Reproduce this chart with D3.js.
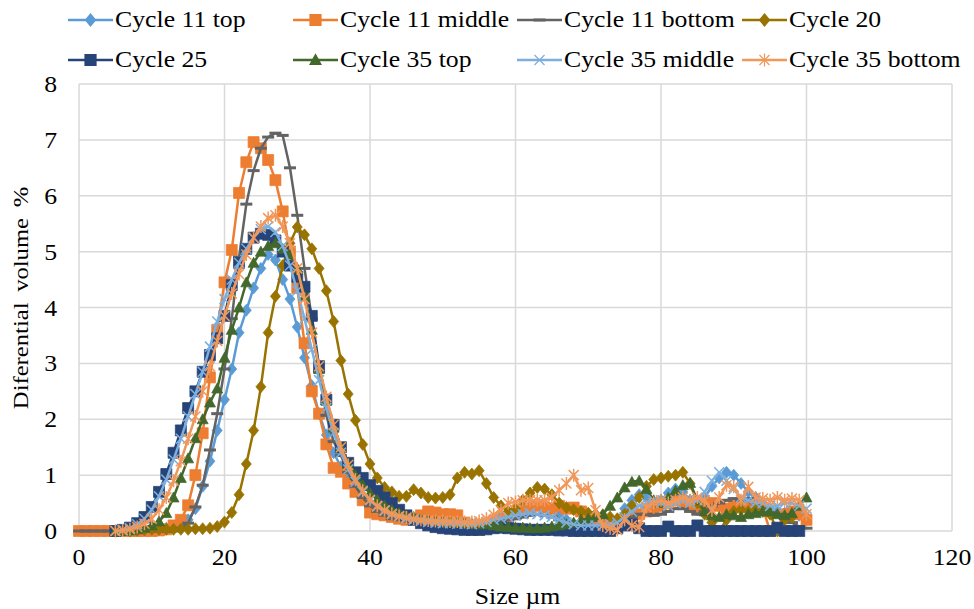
<!DOCTYPE html>
<html>
<head>
<meta charset="utf-8">
<script src="https://cdn.jsdelivr.net/npm/d3@7"></script>
<style>
  body { margin: 0; background: #fff; }
  svg { display: block; font-family: "Liberation Serif", "Times New Roman", serif; }
</style>
</head>
<body>
<div id="chart"></div>
<script>
// particle size grid (µm)
const sizes = [0, 1, 2, 3, 4, 5, 6, 7, 8, 9, 10, 11, 12, 13, 14, 15, 16, 17, 18, 19,
  20, 21, 22, 23, 24, 25, 26, 27, 28, 29, 30, 31, 32, 33, 34, 35, 36, 37, 38, 39,
  40, 41, 42, 43, 44, 45, 46, 47, 48, 49, 50, 51, 52, 53, 54, 55, 56, 57, 58, 59,
  60, 61, 62, 63, 64, 65, 66, 67, 68, 69, 70, 71, 72, 73, 74, 75, 76, 77, 78, 79,
  80, 81, 82, 83, 84, 85, 86, 87, 88, 89, 90, 91, 92, 93, 94, 95, 96, 97, 98, 99, 100];

// differential volume %, one value per size (null = no point)
const cycle11Top = [null, null, null, null, null, 0, 0, 0, 0, 0.01,
  0.02, 0.03, 0.05, 0.08, 0.12, 0.2, 0.4, 0.8, 1.25, 1.8,
  2.35, 2.9, 3.55, 3.95, 4.35, 4.7, 4.95, 4.85, 4.5, 4.15,
  3.65, 3.1, 2.6, 2.1, 1.72, 1.4, 1.15, 0.95, 0.78, 0.62,
  0.5, 0.42, 0.35, 0.3, 0.26, 0.22, 0.2, 0.18, 0.16, 0.15,
  0.14, 0.12, 0.12, 0.1, 0.1, 0.12, 0.15, 0.2, 0.25, 0.3,
  0.35, 0.4, 0.45, 0.5, 0.48, 0.4, 0.3, 0.2, 0.12, 0.08,
  0.05, 0.04, 0.04, 0.08, 0.2, 0.4, 0.55, 0.65, 0.6, 0.5,
  0.55, 0.68, 0.75, 0.7, 0.55, 0.5, 0.6, 0.8, 0.95, 1.05,
  1.0, 0.85, 0.7, 0.6, 0.5, 0.4, 0.35, 0.32, 0.3, 0.28, 0.25];

const cycle11Middle = [0, 0, 0, 0, 0, 0, 0, 0, 0, 0,
  0, 0.01, 0.03, 0.1, 0.2, 0.46, 1.0, 1.75, 2.75, 3.6,
  4.45, 5.03, 6.05, 6.6, 6.96, 6.85, 6.64, 6.28, 5.72, 5.0,
  4.35, 3.36, 2.5, 2.1, 1.55, 1.13, 1.06, 0.85, 0.7, 0.55,
  0.33, 0.3, 0.28, 0.25, 0.22, 0.2, 0.22, 0.28, 0.35, 0.33,
  0.3, 0.3, 0.28, 0.15, 0.02, 0.02, 0.1, 0.15, 0.2, 0.25,
  0.3, 0.35, 0.4, 0.45, 0.42, 0.4, 0.45, 0.4, 0.42, 0.35,
  0.25, 0.2, 0.18, 0.15, 0.15, 0.2, 0.25, 0.3, 0.35, 0.4,
  0.45, 0.5, 0.55, 0.5, 0.45, 0.4, 0.45, 0.5, 0.45, 0.4,
  0.45, 0.5, 0.45, 0.4, 0.4, 0.0, 0.05, 0.3, 0.35, 0.3, 0.2];

const cycle11Bottom = [0, 0, 0, 0, 0, 0, 0, 0, 0, 0,
  0, 0, 0, 0, 0.05, 0.14, 0.43, 0.82, 1.45, 2.1,
  2.9, 3.8, 4.9, 5.85, 6.45, 6.85, 7.05, 7.12, 7.08, 6.5,
  5.65, 4.7, 3.8, 2.85, 2.07, 1.6, 1.35, 1.05, 0.8, 0.6,
  0.45, 0.35, 0.28, 0.22, 0.2, 0.18, 0.16, 0.15, 0.14, 0.13,
  0.12, 0.12, 0.11, 0.1, 0.1, 0.1, 0.12, 0.15, 0.18, 0.2,
  0.22, 0.25, 0.28, 0.3, 0.28, 0.25, 0.2, 0.15, 0.12, 0.1,
  0.08, 0.06, 0.05, 0.05, 0.08, 0.15, 0.25, 0.3, 0.3, 0.28,
  0.3, 0.35, 0.4, 0.4, 0.35, 0.3, 0.35, 0.45, 0.5, 0.55,
  0.58, 0.55, 0.58, 0.5, 0.4, 0.35, 0.3, 0.25, 0.15, 0.08, 0.05];

const cycle20 = [null, null, null, null, null, 0, 0, 0, 0.01, 0.02,
  0.03, 0.03, 0.03, 0.03, 0.03, 0.03, 0.04, 0.04, 0.05, 0.08,
  0.16, 0.33, 0.65, 1.2, 1.8, 2.58, 3.55, 4.2, 4.75, 5.15,
  5.44, 5.3, 5.05, 4.7, 4.3, 3.75, 3.05, 2.45, 1.98, 1.55,
  1.2, 0.95, 0.78, 0.7, 0.62, 0.62, 0.74, 0.68, 0.6, 0.59,
  0.6, 0.65, 0.95, 1.05, 1.02, 1.08, 0.85, 0.6, 0.45, 0.35,
  0.4, 0.55, 0.68, 0.78, 0.75, 0.65, 0.5, 0.42, 0.38, 0.35,
  0.32, 0.3, 0.28, 0.25, 0.22, 0.3, 0.45, 0.6, 0.8, 0.92,
  0.95, 0.98, 1.0, 1.05, 0.85, 0.5, 0.3, 0.15, 0.0, 0.2,
  0.35, 0.38, 0.35, 0.38, 0.35, 0.3, 0.0, 0.2, 0.25, null, null];

const cycle25 = [null, null, null, null, null, 0, 0.02, 0.06, 0.14, 0.25,
  0.43, 0.7, 1.02, 1.4, 1.8, 2.2, 2.5, 2.85, 3.15, 3.45,
  3.85, 4.4, 4.8, 5.05, 5.25, 5.32, 5.3, 5.2, 5.0, 4.75,
  4.55, 4.37, 3.85, 2.95, 2.35, 1.9, 1.5, 1.22, 1.05, 0.95,
  0.82, 0.72, 0.6, 0.5, 0.38, 0.28, 0.2, 0.14, 0.1, 0.07,
  0.05, 0.04, 0.03, 0.02, 0.02, 0.02, 0.03, 0.05, 0.06, 0.05,
  0.04, 0.03, 0.02, 0.02, 0.02, 0.02, 0.01, 0.01, 0, 0,
  0, 0, 0, 0, 0.05, 0.1, 0.12, 0.05, 0, 0,
  0, 0.08, 0, 0, 0, 0.1, 0, 0, 0, 0,
  0, 0, 0, 0, 0, 0, 0.06, 0, 0, 0, null];

const cycle35Top = [null, null, null, null, null, 0, 0, 0.01, 0.03, 0.06,
  0.1, 0.17, 0.32, 0.6, 0.95, 1.3, 1.66, 2.0, 2.3, 2.55,
  3.1, 3.6, 4.0, 4.45, 4.8, 5.0, 5.1, 5.15, 5.05, 4.95,
  4.7, 4.2, 3.6, 2.9, 2.34, 1.85, 1.5, 1.2, 1.0, 0.82,
  0.68, 0.56, 0.46, 0.38, 0.32, 0.28, 0.25, 0.22, 0.2, 0.18,
  0.17, 0.16, 0.15, 0.14, 0.13, 0.12, 0.12, 0.1, 0.08, 0.07,
  0.06, 0.06, 0.05, 0.05, 0.06, 0.08, 0.1, 0.12, 0.15, 0.2,
  0.22, 0.25, 0.3, 0.45, 0.6, 0.78, 0.88, 0.9, 0.75, 0.55,
  0.5, 0.6, 0.72, 0.82, 0.86, 0.55, 0.35, 0.28, 0.25, 0.3,
  0.28, 0.25, 0.3, 0.32, 0.35, 0.35, 0.3, 0.28, 0.32, 0.45, 0.6];

const cycle35Middle = [null, null, null, null, null, 0, 0.02, 0.05, 0.12, 0.22,
  0.38, 0.62, 0.92, 1.28, 1.65, 2.05, 2.45, 2.85, 3.3, 3.75,
  4.15, 4.5, 4.8, 5.05, 5.25, 5.4, 5.45, 5.35, 5.1, 4.75,
  4.3, 3.8, 3.25, 2.7, 2.2, 1.75, 1.4, 1.1, 0.88, 0.7,
  0.55, 0.44, 0.36, 0.3, 0.26, 0.22, 0.2, 0.18, 0.16, 0.15,
  0.14, 0.14, 0.13, 0.13, 0.12, 0.14, 0.16, 0.2, 0.22, 0.25,
  0.28, 0.3, 0.32, 0.3, 0.28, 0.25, 0.2, 0.15, 0.12, 0.1,
  0.1, 0.1, 0.1, 0.12, 0.15, 0.25, 0.35, 0.45, 0.5, 0.55,
  0.5, 0.45, 0.5, 0.55, 0.5, 0.55, 0.7, 0.9, 1.05, 0.9,
  0.75, 0.6, 0.55, 0.5, 0.5, 0.45, 0.45, 0.5, 0.5, 0.45, 0.4];

const cycle35Bottom = [null, null, null, null, null, 0, 0.01, 0.03, 0.07, 0.13,
  0.22, 0.38, 0.6, 0.9, 1.25, 1.65, 2.05, 2.5, 2.95, 3.4,
  3.85, 4.25, 4.6, 4.95, 5.25, 5.45, 5.6, 5.65, 5.45, 5.15,
  4.7, 4.15, 3.55, 2.95, 2.4, 1.9, 1.5, 1.18, 0.92, 0.72,
  0.56, 0.45, 0.37, 0.31, 0.27, 0.24, 0.22, 0.2, 0.19, 0.18,
  0.18, 0.17, 0.17, 0.16, 0.16, 0.18, 0.22, 0.29, 0.37, 0.5,
  0.52, 0.55, 0.55, 0.55, 0.55, 0.6, 0.73, 0.85, 1.0, 0.73,
  0.77, 0.37, 0.1, 0.05, 0.02, 0.2, 0.1, 0.07, 0.43, 0.5,
  0.55, 0.5, 0.55, 0.6, 0.55, 0.6, 0.55, 0.37, 0.6, 0.82,
  0.79, 0.55, 0.79, 0.6, 0.58, 0.55, 0.6, 0.55, 0.58, 0.55, 0.3];

const seriesNames = ["Cycle 11 top", "Cycle 11 middle", "Cycle 11 bottom", "Cycle 20",
  "Cycle 25", "Cycle 35 top", "Cycle 35 middle", "Cycle 35 bottom"];
const seriesValues = [cycle11Top, cycle11Middle, cycle11Bottom, cycle20,
  cycle25, cycle35Top, cycle35Middle, cycle35Bottom];
const seriesColors = ["#5B9BD5", "#ED7D31", "#636363", "#997300",
  "#264478", "#43682B", "#7CAFDD", "#F1975A"];
const seriesMarkers = ["diamond", "square", "dash", "diamond",
  "square", "triangle", "cross", "star"];

const xTicks = [0, 20, 40, 60, 80, 100, 120];
const yTicks = [0, 1, 2, 3, 4, 5, 6, 7, 8];

const width = 974;
const height = 609;
const stretch = 1.12; // the original text is a bit wider than Times

const markerPaths = {
  diamond: "M0,-6L5,0L0,6L-5,0Z",
  square: "M-5.5,-5.5H5.5V5.5H-5.5Z",
  triangle: "M0,-5.5L5.5,4.5H-5.5Z",
  dash: "M-6,0H6",
  cross: "M-5,-5L5,5M-5,5L5,-5",
  star: "M-5,-5L5,5M-5,5L5,-5M0,-6.5V6.5",
};
const filled = (m) => m === "diamond" || m === "square" || m === "triangle";

const svg = d3
  .select("#chart")
  .append("svg")
  .attr("width", width)
  .attr("height", height);

const x = d3.scaleLinear().domain([0, 120]).range([79, 952]);
const y = d3.scaleLinear().domain([0, 8]).range([531, 84]);

// gridlines
svg
  .append("g")
  .selectAll("line")
  .data(yTicks)
  .join("line")
  .attr("x1", x(0))
  .attr("x2", x(120))
  .attr("y1", (d) => y(d))
  .attr("y2", (d) => y(d))
  .attr("stroke", "#d9d9d9")
  .attr("stroke-width", 1.5);

svg
  .append("g")
  .selectAll("line")
  .data(xTicks)
  .join("line")
  .attr("x1", (d) => x(d))
  .attr("x2", (d) => x(d))
  .attr("y1", y(0))
  .attr("y2", y(8))
  .attr("stroke", "#d9d9d9")
  .attr("stroke-width", 1.5);

// tick labels
svg
  .append("g")
  .selectAll("text")
  .data(yTicks)
  .join("text")
  .attr("transform", (d) => `translate(57,${y(d) + 8}) scale(${stretch},1)`)
  .attr("text-anchor", "end")
  .attr("font-size", 23)
  .attr("fill", "#000")
  .text((d) => d);

svg
  .append("g")
  .selectAll("text")
  .data(xTicks)
  .join("text")
  .attr("transform", (d) => `translate(${x(d)},565) scale(${stretch},1)`)
  .attr("text-anchor", "middle")
  .attr("font-size", 23)
  .attr("fill", "#000")
  .text((d) => d);

// axis titles
svg
  .append("text")
  .attr("transform", `translate(${(x(0) + x(120)) / 2 + 2},604) scale(${stretch},1)`)
  .attr("text-anchor", "middle")
  .attr("font-size", 23)
  .text("Size µm");

svg
  .append("text")
  .attr("transform", `translate(28,298) rotate(-90) scale(${stretch},1)`)
  .attr("text-anchor", "middle")
  .attr("font-size", 22)
  .attr("word-spacing", 4)
  .text("Diferential volume %");

// series
const line = d3
  .line()
  .defined((d) => d.v != null)
  .x((d) => x(d.s))
  .y((d) => y(d.v));

seriesNames.forEach((name, i) => {
  const pts = sizes.map((s, j) => ({ s, v: seriesValues[i][j] }));
  const color = seriesColors[i];
  const m = seriesMarkers[i];
  const g = svg.append("g").attr("class", "series");

  g.append("path")
    .attr("d", line(pts))
    .attr("fill", "none")
    .attr("stroke", color)
    .attr("stroke-width", 2.5)
    .attr("stroke-linejoin", "round");

  g.selectAll("path.marker")
    .data(pts.filter((d) => d.v != null))
    .join("path")
    .attr("class", "marker")
    .attr("transform", (d) => `translate(${x(d.s)},${y(d.v)})`)
    .attr("d", markerPaths[m])
    .attr("fill", filled(m) ? color : "none")
    .attr("stroke", color)
    .attr("stroke-width", m === "dash" ? 3 : filled(m) ? 0.75 : 1.5);
});

// legend
const legendCols = [68, 293, 517, 742];
const legendRows = [20, 60];

const legend = svg
  .append("g")
  .selectAll("g")
  .data(seriesNames)
  .join("g")
  .attr("transform", (d, i) => `translate(${legendCols[i % 4]},${legendRows[Math.floor(i / 4)]})`);

legend
  .append("line")
  .attr("x1", 0)
  .attr("x2", 45)
  .attr("stroke", (d, i) => seriesColors[i])
  .attr("stroke-width", 2.5);

legend
  .append("path")
  .attr("transform", "translate(22.5,0)")
  .attr("d", (d, i) => markerPaths[seriesMarkers[i]])
  .attr("fill", (d, i) => (filled(seriesMarkers[i]) ? seriesColors[i] : "none"))
  .attr("stroke", (d, i) => seriesColors[i])
  .attr("stroke-width", (d, i) => (seriesMarkers[i] === "dash" ? 3 : 1.2));

legend
  .append("text")
  .attr("transform", `translate(47,7) scale(${stretch},1)`)
  .attr("font-size", 23)
  .attr("fill", "#000")
  .text((d) => d);
</script>
</body>
</html>
